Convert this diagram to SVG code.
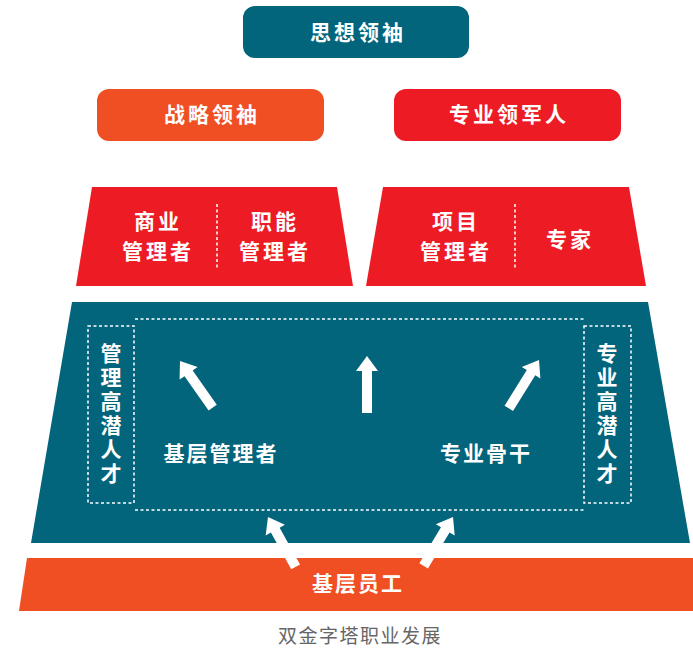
<svg xmlns="http://www.w3.org/2000/svg" width="693" height="652" viewBox="0 0 693 652">
<style>
text{font-family:"Noto Sans CJK SC","Noto Sans",sans-serif;fill:#fff;text-anchor:middle;font-weight:700}
.t21{font-size:21px;letter-spacing:3px}
.t20{font-size:21px;letter-spacing:3px}
.t22{font-size:21px;letter-spacing:2px}
.vert{font-size:21px;letter-spacing:3px;writing-mode:vertical-rl}
.teal{fill:#02657b}
.orange{fill:#f04e23}
.red{fill:#ed1c24}
.dash{fill:none;stroke:#fff;stroke-width:1.5;stroke-dasharray:3 2.5}
.cap{fill:#666;font-weight:400;font-size:19px;letter-spacing:1.5px}
.arr{fill:#fff}
</style>
<defs>
<path id="arrow" d="M0,0 L11,15 L5,15 L5,57 L-5,57 L-5,15 L-11,15 Z"/>
</defs>
<g id="thought-leader">
<rect class="teal" x="243" y="6" width="226" height="52" rx="12"/>
<text class="t21" x="358" y="40">思想领袖</text>
</g>
<g id="strategic-leader">
<rect class="orange" x="97" y="89" width="227" height="52" rx="12"/>
<text class="t21" x="212" y="122">战略领袖</text>
</g>
<g id="professional-leader">
<rect class="red" x="394" y="89" width="227" height="52" rx="12"/>
<text class="t21" x="509" y="122">专业领军人</text>
</g>
<g id="managers-tier">
<polygon class="red" points="92,187 337,187 353,286 76,286"/>
<line class="dash" x1="217" y1="204" x2="217" y2="270"/>
<text class="t20" x="158" y="229">商业</text>
<text class="t20" x="158" y="259">管理者</text>
<text class="t20" x="275" y="229">职能</text>
<text class="t20" x="275" y="259">管理者</text>
</g>
<g id="experts-tier">
<polygon class="red" points="383,187 629,187 646,286 366,286"/>
<line class="dash" x1="515" y1="204" x2="515" y2="270"/>
<text class="t20" x="456" y="229">项目</text>
<text class="t20" x="456" y="259">管理者</text>
<text class="t20" x="570" y="247">专家</text>
</g>
<g id="middle-tier">
<polygon class="teal" points="72,302 648,302 690,543 31,543"/>
<line class="dash" x1="135" y1="319" x2="584" y2="319"/>
<line class="dash" x1="135" y1="510" x2="584" y2="510"/>
<text class="t22" x="221" y="461">基层管理者</text>
<text class="t22" x="486" y="461">专业骨干</text>
</g>
<g id="mgmt-potential">
<rect class="dash" x="88" y="326" width="46" height="177"/>
<text class="vert" x="111" y="415">管理高潜人才</text>
</g>
<g id="prof-potential">
<rect class="dash" x="584" y="326" width="47" height="177"/>
<text class="vert" x="607" y="415">专业高潜人才</text>
</g>
<g id="base-staff">
<polygon class="orange" points="27,558 693,558 693,611 19,611"/>
<text class="t22" x="358" y="591">基层员工</text>
</g>
<g id="connectors" class="arr">
<use href="#arrow" transform="translate(180,361) rotate(-35)"/>
<use href="#arrow" transform="translate(367,356)"/>
<use href="#arrow" transform="translate(539,360) rotate(32)"/>
<use href="#arrow" transform="translate(268,517) rotate(-29)"/>
<use href="#arrow" transform="translate(453,517) rotate(31)"/>
</g>
<text class="cap" x="360" y="643">双金字塔职业发展</text>
</svg>
